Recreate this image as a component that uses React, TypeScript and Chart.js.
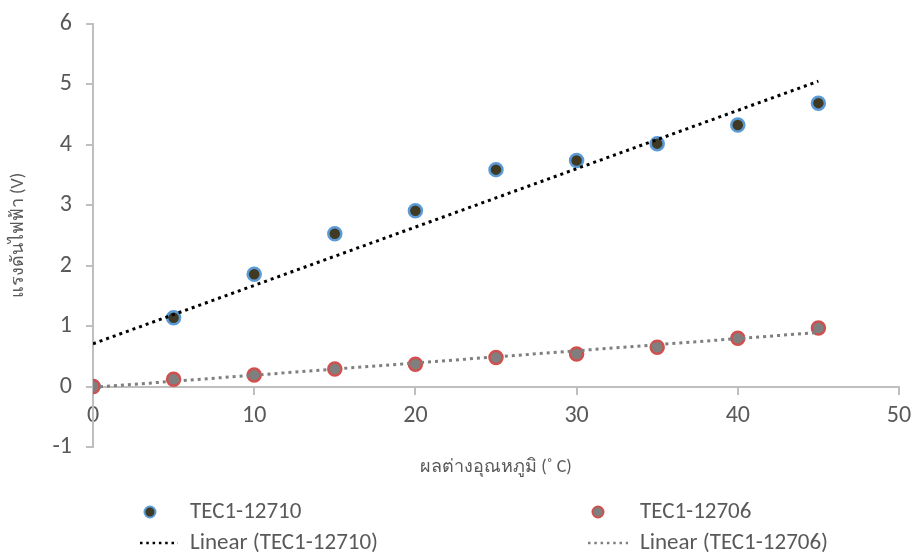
import React, { useEffect, useRef } from "react";
import { Chart, registerables } from "chart.js";

Chart.register(...registerables);

const xValues = [0, 5, 10, 15, 20, 25, 30, 35, 40, 45];
const tec12710 = [0, 1.14, 1.86, 2.53, 2.91, 3.59, 3.74, 4.02, 4.33, 4.69];
const tec12706 = [0, 0.12, 0.19, 0.29, 0.37, 0.48, 0.54, 0.65, 0.8, 0.97];
const seriesNames = ["TEC1-12710", "TEC1-12706"];
const trendNames = ["Linear (TEC1-12710)", "Linear (TEC1-12706)"];
const xTitle = "ผลต่างอุณหภูมิ (˚ C)";
const yTitle = "แรงดันไฟฟ้า (V)";

const FONT = "Calibri, Carlito, 'Liberation Sans', 'Noto Sans', sans-serif";
const TEXT = "#595959";
const AXIS = "#bfbfbf";
const BLUE = "#5b9bd5";
const DARK = "#403a24";
const RED = "#d0504d";
const GRAY = "#7f7f7f";

function fit(xs: number[], ys: number[]) {
  const n = xs.length;
  const mx = xs.reduce((a, b) => a + b, 0) / n;
  const my = ys.reduce((a, b) => a + b, 0) / n;
  let num = 0, den = 0;
  for (let i = 0; i < n; i++) {
    num += (xs[i] - mx) * (ys[i] - my);
    den += (xs[i] - mx) ** 2;
  }
  const m = num / den;
  const b = my - m * mx;
  const x0 = xs[0], x1 = xs[n - 1];
  return [{ x: x0, y: b + m * x0 }, { x: x1, y: b + m * x1 }];
}

const overlay = {
  id: "overlay",
  afterDraw(chart: any) {
    const ctx = chart.ctx;
    const ca = chart.chartArea;
    ctx.save();
    ctx.fillStyle = TEXT;
    ctx.textBaseline = "middle";
    // x title
    ctx.font = `18px ${FONT}`;
    ctx.textAlign = "center";
    ctx.fillText(xTitle, (ca.left + ca.right) / 2, 467);
    // y title
    ctx.save();
    ctx.translate(18, (ca.top + ca.bottom) / 2);
    ctx.rotate(-Math.PI / 2);
    ctx.fillText(yTitle, 0, 0);
    ctx.restore();
    // legend
    ctx.font = `23px ${FONT}`;
    ctx.textAlign = "left";
    const cols = [
      { mx: 150, tx: 190, fill: DARK, border: BLUE, line: "#000000" },
      { mx: 598, tx: 640, fill: GRAY, border: RED, line: GRAY },
    ];
    cols.forEach((c, i) => {
      ctx.beginPath();
      ctx.arc(c.mx, 512, 5.5, 0, Math.PI * 2);
      ctx.fillStyle = c.fill;
      ctx.fill();
      ctx.lineWidth = 2;
      ctx.strokeStyle = c.border;
      ctx.stroke();
      ctx.fillStyle = TEXT;
      ctx.fillText(seriesNames[i], c.tx, 512);
      ctx.beginPath();
      ctx.setLineDash([2.5, 3.8]);
      ctx.lineWidth = 2.5;
      ctx.strokeStyle = c.line;
      ctx.moveTo(c.mx - 10, 543);
      ctx.lineTo(c.tx - 12, 543);
      ctx.stroke();
      ctx.setLineDash([]);
      ctx.fillText(trendNames[i], c.tx, 543);
    });
    ctx.restore();
  },
};

export default function App() {
  const ref = useRef<HTMLCanvasElement>(null);
  useEffect(() => {
    document.body.style.margin = "0";
    const pts1 = xValues.map((x, i) => ({ x, y: tec12710[i] }));
    const pts2 = xValues.map((x, i) => ({ x, y: tec12706[i] }));
    const chart = new Chart(ref.current!, {
      type: "scatter",
      data: {
        datasets: [
          {
            label: trendNames[0],
            data: fit(xValues, tec12710),
            showLine: true,
            borderColor: "#000000",
            borderWidth: 3,
            borderDash: [3, 4],
            pointRadius: 0,
            order: 0,
          },
          {
            label: trendNames[1],
            data: fit(xValues, tec12706),
            showLine: true,
            borderColor: GRAY,
            borderWidth: 3,
            borderDash: [3, 4],
            pointRadius: 0,
            order: 0,
          },
          {
            label: seriesNames[1],
            data: pts2,
            backgroundColor: GRAY,
            borderColor: RED,
            borderWidth: 2.5,
            pointRadius: 6.5,
            order: 1,
          },
          {
            label: seriesNames[0],
            data: pts1,
            backgroundColor: DARK,
            borderColor: BLUE,
            borderWidth: 2.5,
            pointRadius: 6.5,
            order: 2,
          },
        ],
      },
      options: {
        animation: false,
        responsive: false,
        layout: { padding: { top: 24, left: 0, right: 16, bottom: 108 } },
        plugins: { legend: { display: false }, tooltip: { enabled: false } },
        scales: {
          x: {
            type: "linear",
            min: 0,
            max: 50,
            position: { y: 0 } as any,
            ticks: { stepSize: 10, color: TEXT, font: { size: 24, family: FONT }, padding: 8 },
            grid: { drawOnChartArea: false, drawTicks: true, tickLength: 7, color: AXIS, lineWidth: 2 },
            border: { color: AXIS, width: 2 },
            afterFit: (s: any) => {
              s.paddingLeft = 0;
              s.paddingRight = 0;
            },
          },
          y: {
            min: -1,
            max: 6,
            ticks: { stepSize: 1, color: TEXT, font: { size: 24, family: FONT }, padding: 14 },
            grid: { drawOnChartArea: false, drawTicks: true, tickLength: 7, color: AXIS, lineWidth: 2 },
            border: { color: AXIS, width: 2 },
            afterFit: (s: any) => {
              s.width = 93;
              s.paddingTop = 0;
              s.paddingBottom = 0;
            },
          },
        },
      },
      plugins: [overlay],
    });
    return () => chart.destroy();
  }, []);
  return (
    <div style={{ width: 915, height: 555, background: "#ffffff" }}>
      <canvas ref={ref} width={915} height={555} />
    </div>
  );
}
